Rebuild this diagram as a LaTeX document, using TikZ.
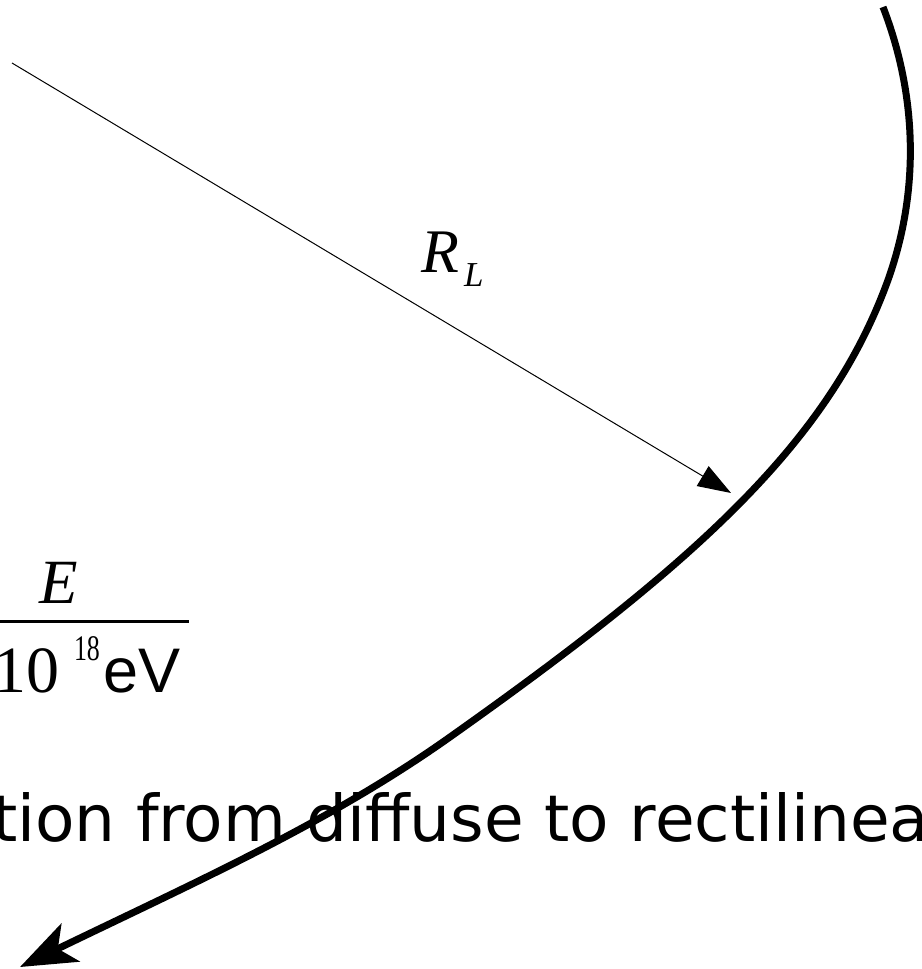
\documentclass[tikz,border=0pt]{standalone}
\usepackage{fontspec}
\usetikzlibrary{arrows.meta}
\newfontfamily\captionfont{DejaVu Sans}
\newfontfamily\timesfont{Liberation Serif}
\newfontfamily\arialfont{Liberation Sans}
\tikzset{lbl/.style={inner sep=0pt, outer sep=0pt, anchor=base west}}

\begin{document}
\begin{tikzpicture}[x=1pt, y=-1pt]
\useasboundingbox (0,0) rectangle (921,969);
\clip (0,0) rectangle (921,969);

% labels
\node[lbl] (rsym) at (421,272) {\fontsize{62}{62}\timesfont\itshape R};
\node[lbl] (rsub) at (464,286) {\fontsize{35}{35}\timesfont\itshape L};
\node[lbl] (enum) at (39,603) {\fontsize{63}{63}\timesfont\itshape E};
\node[lbl] (ten) at (-6,692) {\fontsize{66}{66}\timesfont 10};
\node[lbl] (pow) at (74,660) {\scalebox{0.72}[1]{\fontsize{36}{36}\timesfont 18}};
\node[lbl] (unit) at (103,692) {\fontsize{63}{63}\arialfont eV};
\node[lbl] (caption) at (-8,841) {\fontsize{64.5}{64.5}\captionfont tion from diffuse to rectilinea};

% fraction bar
\coordinate (bar0) at (0,621.5);
\coordinate (bar1) at (189,621.5);
\draw [line width=3pt] (bar0) -- (bar1);

% larmor radius
\coordinate (ctr) at (12,63);
\coordinate (orb) at (731,493);
\draw [line width=1pt, -{Triangle[length=33pt,width=23pt]}] (ctr) -- (orb);

% trajectory
\coordinate (top) at (883,7);
\coordinate (turn) at (888,280);
\coordinate (mid) at (450,737);
\coordinate (out) at (20,967);
\draw [line width=7pt, -{Stealth[length=56pt,width=42pt,inset=14pt]}]
  (top) .. controls (917,95) and (920,190) .. (turn)
  .. controls (830,440) and (700,560) .. (mid)
  .. controls (330,822) and (200,880) .. (out);

\end{tikzpicture}
\end{document}
